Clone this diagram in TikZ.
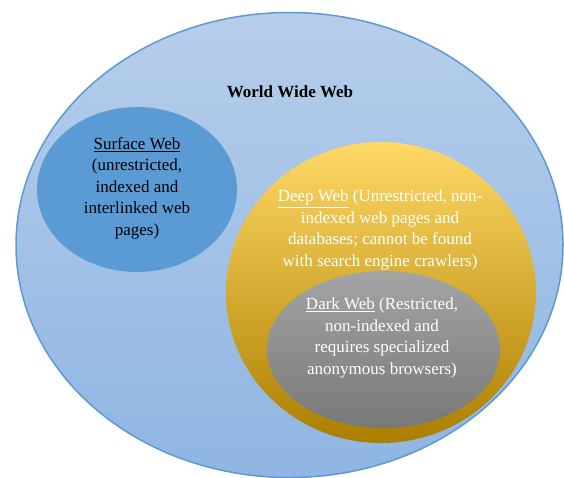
\documentclass[tikz,border=0pt]{standalone}
\usepackage{fontspec}
\setmainfont{Liberation Serif}
\usetikzlibrary{shapes.geometric}
\definecolor{wwwtop}{RGB}{182,206,234}
\definecolor{wwwbot}{RGB}{143,181,226}
\definecolor{wwwline}{RGB}{91,155,213}
\definecolor{surf}{RGB}{91,155,213}
\definecolor{deeptop}{RGB}{255,217,102}
\definecolor{deepmid}{RGB}{250,190,10}
\definecolor{deepbot}{RGB}{170,126,0}
\definecolor{darktop}{RGB}{164,164,164}
\definecolor{darkbot}{RGB}{120,120,120}

\begin{document}
\begin{tikzpicture}[x=1pt,y=-1pt,
  blob/.style={ellipse,inner sep=0pt},
  label/.style={align=center,font=\fontsize{17}{21.5}\selectfont}]
  \useasboundingbox (0,0) rectangle (564,477);
  % the web layers, outermost first
  \node[blob,draw=wwwline,line width=1.5pt,top color=wwwtop,bottom color=wwwbot,
        minimum width=547pt,minimum height=465pt] (www) at (289.5,245) {};
  \node[blob,fill=surf,minimum width=200pt,minimum height=165pt] (surface) at (137,189.5) {};
  \node[blob,top color=deeptop,middle color=deepmid,bottom color=deepbot,
        minimum width=310pt,minimum height=301pt] (deep) at (381,292.5) {};
  \node[blob,top color=darktop,bottom color=darkbot,
        minimum width=233pt,minimum height=157pt] (dark) at (383.5,349.5) {};
  % texts
  \node[label,font=\fontsize{17}{21.5}\selectfont\bfseries] (wwwtext) at (290,92) {World Wide Web};
  \node[label] (surftext) at (137,188) {\underline{Surface Web}\\(unrestricted,\\indexed and\\interlinked web\\pages)};
  \node[label,text=white] (deeptext) at (380,230) {\underline{Deep Web} (Unrestricted, non-\\indexed web pages and\\databases; cannot be found\\with search engine crawlers)};
  \node[label,text=white] (darktext) at (382,338) {\underline{Dark Web} (Restricted,\\non-indexed and\\requires specialized\\anonymous browsers)};
\end{tikzpicture}
\end{document}
